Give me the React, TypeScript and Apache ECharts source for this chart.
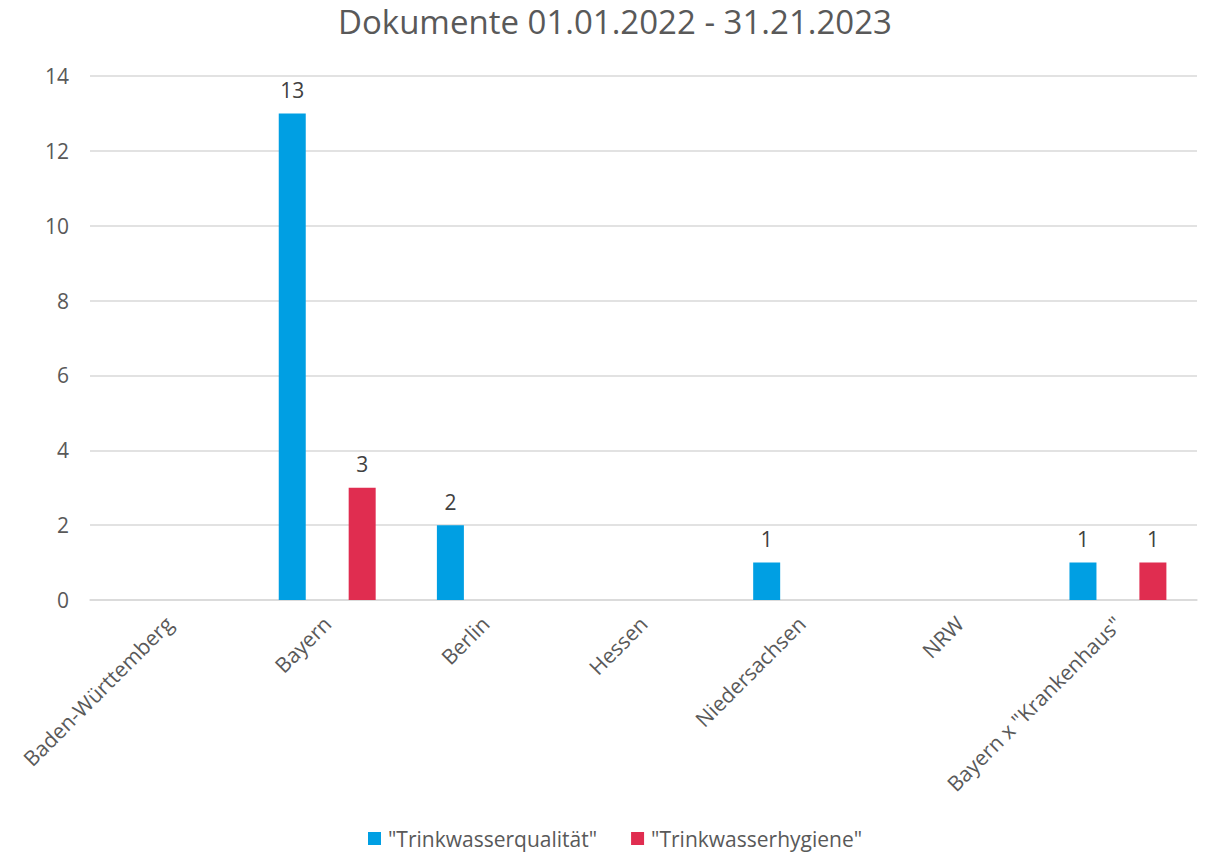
import React, { useEffect, useRef } from "react";
import * as echarts from "echarts";

const categories = [
  "Baden-Württemberg",
  "Bayern",
  "Berlin",
  "Hessen",
  "Niedersachsen",
  "NRW",
  'Bayern x "Krankenhaus"',
];
const qualitaet = [0, 13, 2, 0, 1, 0, 1];
const hygiene = [0, 3, 0, 0, 0, 0, 1];
const seriesNames = ['"Trinkwasserqualität"', '"Trinkwasserhygiene"'];
const titleText = "Dokumente 01.01.2022 - 31.21.2023";

const FONT = "'Open Sans', 'Noto Sans', sans-serif";

export default function App() {
  const ref = useRef<HTMLDivElement>(null);
  useEffect(() => {
    document.body.style.margin = "0";
    const chart = echarts.init(ref.current!, null, { renderer: "svg" });
    const label = {
      show: true,
      position: "top",
      distance: 13,
      color: "#404040",
      fontSize: 21,
      fontFamily: FONT,
      formatter: (p: any) => (p.value > 0 ? String(p.value) : ""),
    };
    chart.setOption({
      animation: false,
      backgroundColor: "#ffffff",
      textStyle: { fontFamily: FONT },
      title: {
        text: titleText,
        left: 333,
        top: 0,
        textStyle: { fontSize: 33, fontWeight: "normal", color: "#595959", fontFamily: FONT },
      },
      grid: { left: 90, right: 9, top: 76, bottom: 254, containLabel: false },
      legend: {
        bottom: 0,
        left: 363,
        itemWidth: 13,
        itemHeight: 13,
        itemGap: 34,
        icon: "rect",
        textStyle: { fontSize: 21, color: "#595959", fontFamily: FONT, padding: [0, 0, 0, 2] },
        data: seriesNames,
      },
      xAxis: {
        type: "category",
        data: categories,
        axisLine: { lineStyle: { color: "#d9d9d9", width: 1.5 } },
        axisTick: { show: false },
        axisLabel: {
          rotate: 45,
          fontSize: 21,
          color: "#595959",
          fontFamily: FONT,
          margin: 20,
          interval: 0,
        },
      },
      yAxis: {
        type: "value",
        min: 0,
        max: 14,
        interval: 2,
        axisLine: { show: false },
        axisTick: { show: false },
        splitLine: { lineStyle: { color: "#d9d9d9", width: 1.5 } },
        axisLabel: { fontSize: 21, color: "#595959", fontFamily: FONT, margin: 21 },
      },
      series: [
        {
          name: seriesNames[0],
          type: "bar",
          data: qualitaet,
          barWidth: 27,
          barGap: "159%",
          itemStyle: { color: "#009FE3" },
          label,
        },
        {
          name: seriesNames[1],
          type: "bar",
          data: hygiene,
          barWidth: 27,
          itemStyle: { color: "#E02D50" },
          label,
        },
      ],
    });
    return () => chart.dispose();
  }, []);
  return <div ref={ref} style={{ width: 1206, height: 854 }} />;
}
